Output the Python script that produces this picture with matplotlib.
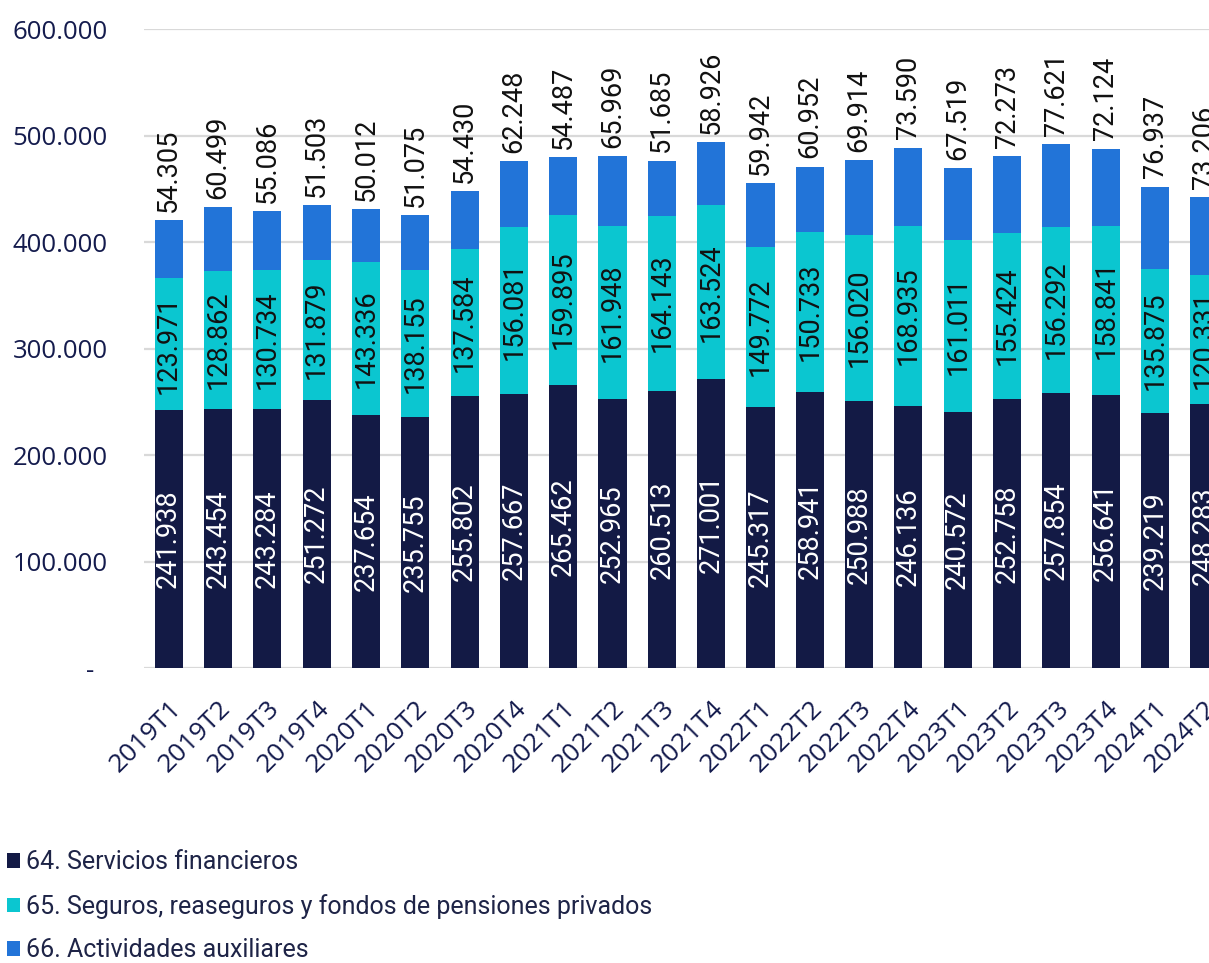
import matplotlib.pyplot as plt
import numpy as np
from matplotlib.ticker import FuncFormatter

# Trimestres
periodos = ['2019T1', '2019T2', '2019T3', '2019T4', '2020T1', '2020T2', '2020T3', '2020T4',
            '2021T1', '2021T2', '2021T3', '2021T4', '2022T1', '2022T2', '2022T3', '2022T4',
            '2023T1', '2023T2', '2023T3', '2023T4', '2024T1', '2024T2']

# Valores por rama de actividad
servicios_financieros = [241938, 243454, 243284, 251272, 237654, 235755, 255802, 257667,
                         265462, 252965, 260513, 271001, 245317, 258941, 250988, 246136,
                         240572, 252758, 257854, 256641, 239219, 248283]
seguros = [123971, 128862, 130734, 131879, 143336, 138155, 137584, 156081,
           159895, 161948, 164143, 163524, 149772, 150733, 156020, 168935,
           161011, 155424, 156292, 158841, 135875, 120331]
auxiliares = [54305, 60499, 55086, 51503, 50012, 51075, 54430, 62248,
              54487, 65969, 51685, 58926, 59942, 60952, 69914, 73590,
              67519, 72273, 77621, 72124, 76937, 73206]

nombres = ['64. Servicios financieros',
           '65. Seguros, reaseguros y fondos de pensiones privados',
           '66. Actividades auxiliares']
colores = ['#131A45', '#0BC6D0', '#2274D8']
navy = '#141B4D'


def fmt_miles(v):
    return f'{v:,.0f}'.replace(',', '.')


fig = plt.figure(figsize=(12.09, 9.63), dpi=100)
# el eje sobresale por la derecha, como en el original (ultima barra cortada)
ax = fig.add_axes([144 / 1209, 295 / 963, 1085 / 1209, 639 / 963])

x = np.arange(len(periodos))
ancho = 0.57
s1 = np.array(servicios_financieros)
s2 = np.array(seguros)
s3 = np.array(auxiliares)

b1 = ax.bar(x, s1, ancho, color=colores[0], label=nombres[0], zorder=3)
b2 = ax.bar(x, s2, ancho, bottom=s1, color=colores[1], label=nombres[1], zorder=3)
b3 = ax.bar(x, s3, ancho, bottom=s1 + s2, color=colores[2], label=nombres[2], zorder=3)

etq = dict(rotation=90, fontsize=19.5, family='Roboto')
ax.bar_label(b1, labels=[fmt_miles(v) for v in s1], label_type='center', color='white', **etq)
ax.bar_label(b2, labels=[fmt_miles(v) for v in s2], label_type='center', color='#111111', **etq)
ax.bar_label(b3, labels=[fmt_miles(v) for v in s3], label_type='edge', padding=6, color='#111111', **etq)

ax.set_xlim(-0.5, len(periodos) - 0.5)
ax.set_ylim(0, 600000)
ax.set_yticks(np.arange(0, 600001, 100000))
ax.yaxis.set_major_formatter(FuncFormatter(lambda v, p: '-  ' if v == 0 else fmt_miles(v)))
ax.set_xticks(x)
ax.set_xticklabels(periodos, rotation=45, ha='right', va='top', rotation_mode='anchor')

ax.tick_params(axis='y', length=0, pad=26, labelsize=18.5, labelcolor=navy)
ax.tick_params(axis='x', length=0, pad=20, labelsize=19, labelcolor=navy)
for lab in ax.get_xticklabels() + ax.get_yticklabels():
    lab.set_family('Open Sans')

ax.yaxis.grid(True, color='#D9D9D9', linewidth=1.6, zorder=0)
for s in ax.spines.values():
    s.set_visible(False)

leg = fig.legend(loc='upper left', bbox_to_anchor=(0.006, 0.117), frameon=False,
                 borderaxespad=0, borderpad=0,
                 handlelength=0.5, handleheight=0.5, handletextpad=0.25,
                 labelspacing=0.78, prop={'family': 'Roboto', 'size': 18})
for t in leg.get_texts():
    t.set_color('#1E2447')

fig.savefig('out.png', dpi=100)
